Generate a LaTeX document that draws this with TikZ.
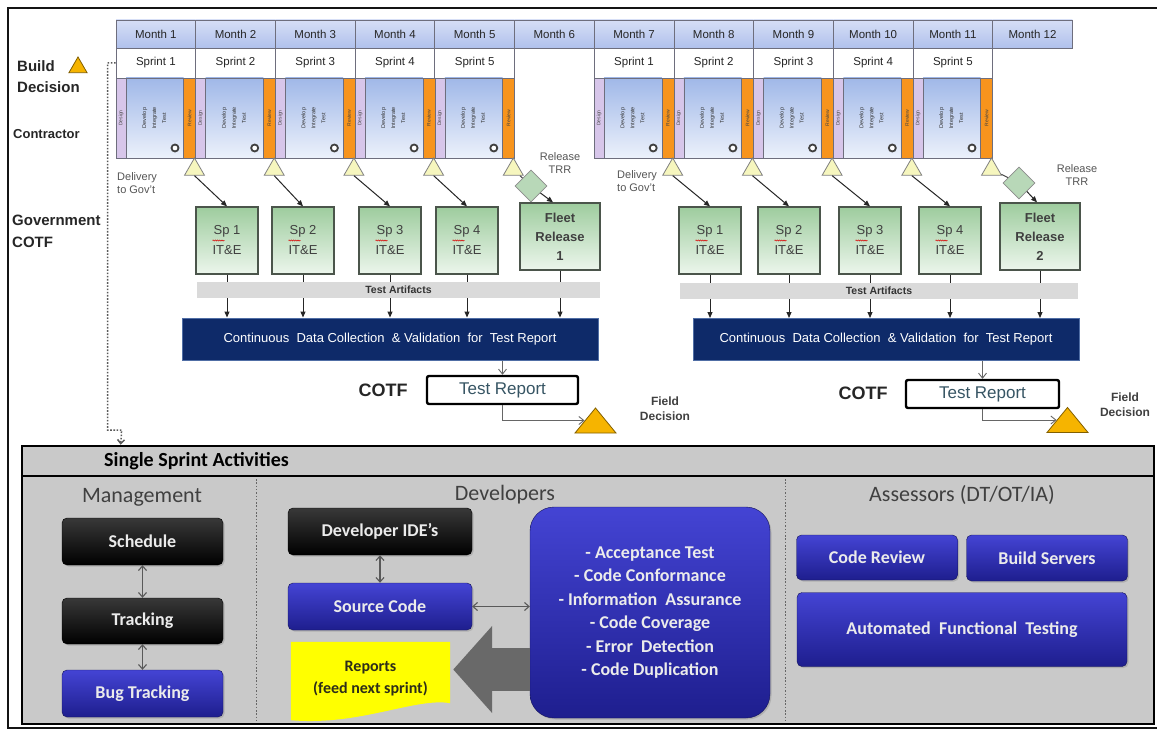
\documentclass[tikz,border=0pt]{standalone}
\usepackage{fontspec}
\setmainfont{Liberation Sans}
\newfontfamily\calfont{Carlito}
\usetikzlibrary{arrows.meta,shapes.geometric,decorations.pathmorphing,calc,shadows}

\definecolor{framek}{RGB}{20,20,20}
\definecolor{monthtop}{RGB}{214,222,246}
\definecolor{monthbot}{RGB}{176,193,236}
\definecolor{cellline}{RGB}{110,110,125}
\definecolor{devtop}{RGB}{160,184,232}
\definecolor{devbot}{RGB}{236,241,251}
\definecolor{lavender}{RGB}{215,198,234}
\definecolor{revorange}{RGB}{247,148,29}
\definecolor{paleyellow}{RGB}{246,246,190}
\definecolor{greentop}{RGB}{158,204,158}
\definecolor{greenbot}{RGB}{236,246,236}
\definecolor{boxline}{RGB}{75,85,75}
\definecolor{diamondgreen}{RGB}{184,216,184}
\definecolor{bandgray}{RGB}{218,218,218}
\definecolor{navy}{RGB}{14,42,105}
\definecolor{navyline}{RGB}{80,110,165}
\definecolor{gold}{RGB}{246,180,0}
\definecolor{goldline}{RGB}{130,95,0}
\definecolor{labelgray}{RGB}{85,85,85}
\definecolor{reportteal}{RGB}{55,85,100}
\definecolor{panelgray}{RGB}{201,201,201}
\definecolor{titlegray}{RGB}{64,64,64}
\definecolor{bluetop}{RGB}{68,68,212}
\definecolor{bluebot}{RGB}{30,30,142}
\definecolor{blueline}{RGB}{20,20,90}
\definecolor{arrowgray}{RGB}{105,105,105}
\definecolor{repyellow}{RGB}{255,255,0}
\definecolor{reptext}{RGB}{45,45,25}

\tikzset{
  monthcell/.style={draw=cellline, line width=0.8pt, top color=monthtop, bottom color=monthbot,
    minimum width=79.7pt, minimum height=28pt, inner sep=0pt, font=\fontsize{11.5}{12}\selectfont, text=black!85},
  sprintcell/.style={draw=cellline, line width=0.8pt, fill=white, minimum width=79.7pt,
    minimum height=30pt, inner sep=0pt, font=\fontsize{11.5}{12}\selectfont, text=black!85},
  designstrip/.style={draw=cellline, line width=0.6pt, fill=lavender, minimum width=10pt,
    minimum height=80pt, inner sep=0pt, font=\fontsize{5}{5.5}\selectfont, text=black!70},
  devarea/.style={draw=cellline, line width=0.6pt, top color=devtop, bottom color=devbot,
    minimum width=57.7pt, minimum height=80pt, inner sep=0pt, font=\fontsize{5.5}{6}\selectfont, text=black!80},
  reviewstrip/.style={draw=cellline, line width=0.6pt, fill=revorange, minimum width=12pt,
    minimum height=80pt, inner sep=0pt, font=\fontsize{5}{5.5}\selectfont, text=black!75},
  cycleicon/.style={circle, draw=black!75, line width=1.8pt, fill=white, minimum size=7pt, inner sep=0pt},
  delivtri/.style={regular polygon, regular polygon sides=3, minimum size=23pt, inner sep=0pt,
    draw=black!50, line width=0.8pt, fill=paleyellow},
  spbox/.style={draw=boxline, line width=1.3pt, top color=greentop, bottom color=greenbot,
    minimum width=62pt, minimum height=67pt, inner sep=0pt, align=center,
    font=\fontsize{13}{20}\selectfont, text=black!75},
  fleetbox/.style={spbox, minimum width=80pt, font=\bfseries\fontsize{13}{19}\selectfont},
  trrdiamond/.style={diamond, draw=black!45, line width=0.8pt, fill=diamondgreen,
    minimum width=32pt, minimum height=32pt, inner sep=0pt},
  band/.style={fill=bandgray, minimum height=16pt, inner sep=0pt,
    font=\bfseries\fontsize{10.5}{11}\selectfont, text=black!80},
  navybox/.style={draw=navyline, line width=1pt, fill=navy, minimum height=42pt, inner sep=0pt,
    text=white, font=\fontsize{13}{14}\selectfont},
  reportbox/.style={draw=black, line width=2.4pt, rounded corners=2pt, fill=white, minimum height=28pt,
    inner sep=0pt, text=reportteal, font=\fontsize{17}{18}\selectfont},
  darr/.style={-{Triangle[length=6pt,width=5pt]}, line width=1pt, draw=black!85},
  thinarr/.style={-{Straight Barb[length=5pt,width=8pt]}, line width=0.9pt, draw=black!60},
  sidelabel/.style={font=\bfseries\fontsize{15}{16}\selectfont, text=black!85, inner sep=0pt, anchor=west},
  smalllabel/.style={font=\fontsize{11}{13}\selectfont, text=labelgray, inner sep=0pt},
  spell/.style={draw=red!85!black, line width=0.5pt, decorate,
    decoration={snake, amplitude=0.6pt, segment length=2.2pt}},
  panel/.style={draw=black, line width=2.5pt, fill=panelgray, inner sep=0pt},
  coltitle/.style={font=\calfont\fontsize{22}{23}\selectfont, text=titlegray, inner sep=0pt},
  darkbox/.style={rounded corners=5pt, draw=black, top color=black!78, bottom color=black,
    text=white!92!black, font=\calfont\bfseries\fontsize{18}{19}\selectfont, inner sep=0pt,
    drop shadow={opacity=0.35, shadow xshift=1.5pt, shadow yshift=-1.5pt}},
  bluebox/.style={darkbox, draw=blueline, top color=bluetop, bottom color=bluebot},
  dblarr/.style={{Straight Barb[length=4.5pt,width=8pt]}-{Straight Barb[length=4.5pt,width=8pt]},
    line width=1.1pt, draw=black!65},
  coldiv/.style={draw=black!60, line width=1pt, dash pattern=on 1.5pt off 1.8pt},
  elbowdots/.style={draw=black!65, line width=1.5pt, dash pattern=on 1.6pt off 1.6pt},
}

\begin{document}
\begin{tikzpicture}[x=1pt,y=-1pt]
\useasboundingbox (0,0) rectangle (1157,730);
\fill[white] (0,0) rectangle (1157,730);

% outer frame (open on the right)
\draw[line width=2.5pt, framek] (1157,8) -- (8,8) -- (8,728) -- (1157,728);

% ---------------- timeline ----------------
\foreach \i in {1,...,12}
  \node[monthcell] (m\i) at ({116+79.7*(\i-0.5)},34) {Month \i};

\foreach \s in {1,...,5}{
  \foreach \h/\off in {L/0,R/6}{
    \pgfmathsetmacro\lx{116+79.7*(\s+\off-1)}
    \node[sprintcell] (sc\h\s) at (\lx+39.85,63) {Sprint \s};
    \node[designstrip] (ds\h\s) at (\lx+5,118) {\rotatebox{90}{Design}};
    \node[devarea] (dv\h\s) at (\lx+38.85,118) {\rotatebox{90}{\begin{tabular}{@{}c@{}}Develop\\[4pt]Integrate\\[4pt]Test\end{tabular}}};
    \node[reviewstrip] (rv\h\s) at (\lx+73.7,118) {\rotatebox{90}{Review}};
    \node[cycleicon] (cy\h\s) at (\lx+59,148) {};
    \node[delivtri] (dt\h\s) at (\lx+78.5,169.5) {};
  }
}

% left-side labels
\node[sidelabel] (lbBuild) at (17,66) {Build};
\node[regular polygon, regular polygon sides=3, minimum size=21pt, inner sep=0pt,
      fill=gold, draw=goldline, line width=0.8pt] (bdTri) at (78,67.5) {};
\node[sidelabel] (lbDecision) at (17,87) {Decision};
\node[sidelabel, font=\bfseries\fontsize{13}{14}\selectfont] (lbContractor) at (13,134) {Contractor};
\node[sidelabel] (lbGov) at (12,220) {Government};
\node[sidelabel] (lbCotf) at (12,242) {COTF};

\node[smalllabel, align=left, anchor=west] (dlL) at (117,183) {Delivery\\to Gov’t};
\node[smalllabel, align=left, anchor=west] (dlR) at (617,181) {Delivery\\to Gov’t};
\node[smalllabel, align=center] (rtL) at (560,163) {Release\\TRR};
\node[smalllabel, align=center] (rtR) at (1077,175) {Release\\TRR};

% sprint IT&E boxes
\foreach \s/\x/\y in {1/227/710,2/303/789,3/390/870,4/467/950}{
  \node[spbox] (iteL\s) at (\x,240.5) {Sp \s\\IT\&E};
  \node[spbox] (iteR\s) at (\y,240.5) {Sp \s\\IT\&E};
  \draw[darr] (dtL\s.south) -- (iteL\s.north);
  \draw[darr] (dtR\s.south) -- (iteR\s.north);
  \draw[spell] ($(iteL\s.center)+(-14.5,0)$) -- ($(iteL\s.center)+(-2.5,0)$);
  \draw[spell] ($(iteR\s.center)+(-14.5,0)$) -- ($(iteR\s.center)+(-2.5,0)$);
}

% fleet releases
\node[fleetbox] (frL) at (560,236.5) {Fleet\\Release\\1};
\node[fleetbox] (frR) at (1040,236.5) {Fleet\\Release\\2};
\node[trrdiamond] (tdL) at (531,186) {};
\node[trrdiamond] (tdR) at (1019,183) {};
\draw[line width=1pt, draw=black!70] (dtL5) -- (tdL);
\draw[line width=1pt, draw=black!70] (dtR5) -- (tdR);
\draw[darr] (tdL) -- ([xshift=-7pt]frL.north);
\draw[darr] (tdR) -- ([xshift=-3pt]frR.north);

% data collection
\node[navybox, minimum width=416pt] (cdL) at (390,339)
  {Continuous\ \ Data Collection\ \ \&\ Validation\ \ for\ \ Test Report};
\node[navybox, minimum width=386pt] (cdR) at (886,339.5)
  {Continuous\ \ Data Collection\ \ \&\ Validation\ \ for\ \ Test Report};
\foreach \n in {iteL1,iteL2,iteL3,iteL4,frL}
  \draw[darr] (\n.south) -- (\n.south |- cdL.north);
\foreach \n in {iteR1,iteR2,iteR3,iteR4,frR}
  \draw[darr] (\n.south) -- (\n.south |- cdR.north);
\node[band, minimum width=403pt] (baL) at (398.5,290) {Test Artifacts};
\node[band, minimum width=398pt] (baR) at (879,290.5) {Test Artifacts};

% test reports and field decisions
\node[reportbox, minimum width=151pt] (tstL) at (502.5,390) {Test Report};
\node[reportbox, minimum width=153pt] (tstR) at (982.5,394) {Test Report};
\draw[thinarr] (cdL.south -| tstL.north) -- (tstL.north);
\draw[thinarr] (cdR.south -| tstR.north) -- (tstR.north);
\node[font=\bfseries\fontsize{18}{18}\selectfont, text=black!85, inner sep=0pt] (cotfL) at (383,390) {COTF};
\node[font=\bfseries\fontsize{18}{18}\selectfont, text=black!85, inner sep=0pt] (cotfR) at (863,393) {COTF};

\coordinate (fdL) at (595.5,420.5);
\coordinate (fdR) at (1067.5,420);
\foreach \c in {fdL,fdR}
  \filldraw[fill=gold, draw=goldline, line width=0.8pt]
    ($(\c)+(0,-12.5)$) -- ($(\c)+(20.5,12.5)$) -- ($(\c)+(-20.5,12.5)$) -- cycle;
\coordinate (fdLin) at ($(fdL)+(-11,0)$);
\coordinate (fdRin) at ($(fdR)+(-11,0)$);
\draw[thinarr] (tstL.south) |- (fdLin);
\draw[thinarr] (tstR.south) |- (fdRin);
\node[font=\bfseries\fontsize{12}{15}\selectfont, text=black!75, align=center, inner sep=0pt] (fdtL) at (665,409) {Field\\Decision};
\node[font=\bfseries\fontsize{12}{15}\selectfont, text=black!75, align=center, inner sep=0pt] (fdtR) at (1125,405) {Field\\Decision};

% ---------------- single sprint panel ----------------
\node[panel, minimum width=1132pt, minimum height=278pt] (ssa) at (588,585) {};
\draw[line width=2pt] ([yshift=-31pt]ssa.north west) -- ([yshift=-31pt]ssa.north east);
\node[font=\calfont\bfseries\fontsize{20}{21}\selectfont, anchor=west, inner sep=0pt] (ssaTitle) at (104,461.5) {Single Sprint Activities};
\coordinate (ssaIn) at ([xshift=100pt]ssa.north west);
\draw[elbowdots, -{Straight Barb[length=4pt,width=7pt]}] (scL1.west) -- ++(-8,0) -- ++(0,367) -- ++(14,0) -- (ssaIn);

\draw[coldiv] (256,479) -- (256,722);
\draw[coldiv] (785,479) -- (785,722);

\node[coltitle] (tMan) at (142,497) {Management};
\node[coltitle] (tDev) at (505,495) {Developers};
\node[coltitle] (tAss) at (962,495) {Assessors (DT/OT/IA)};

% management
\node[darkbox, minimum width=161pt, minimum height=47pt] (sched) at (142.5,541.5) {Schedule};
\node[darkbox, minimum width=161pt, minimum height=46pt] (track) at (142.5,621) {Tracking};
\node[bluebox, minimum width=161pt, minimum height=47pt] (bug) at (142.5,693.5) {Bug Tracking};
\draw[dblarr] (sched) -- (track);
\draw[dblarr] (track) -- (bug);

% developers
\node[darkbox, minimum width=184pt, minimum height=47pt] (ide) at (380,531.5) {Developer IDE’s};
\node[bluebox, minimum width=184pt, minimum height=47pt] (src) at (380,606.5) {Source Code};
\node[minimum width=159pt, minimum height=74pt, inner sep=0pt] (rep) at (370.5,679) {};
\fill[repyellow] (rep.north west) -- (rep.north east) -- ($(rep.south east)+(0,-13)$)
  .. controls ($(rep.south east)+(-35,-19)$) and ($(rep.south west)+(69,10)$) .. ($(rep.south west)+(0,4)$) -- cycle;
\node[font=\calfont\bfseries\fontsize{16}{22}\selectfont, text=reptext, align=center, inner sep=0pt] (repTxt) at (370.5,679) {Reports\\(feed next sprint)};
\node[bluebox, rounded corners=24pt, minimum width=240pt, minimum height=211pt, align=center,
      font=\calfont\bfseries\fontsize{18}{23.5}\selectfont] (big) at (650,612.5)
  {- Acceptance Test\\- Code Conformance\\- Information\ \ Assurance\\- Code Coverage\\- Error\ \ Detection\\- Code Duplication};
\draw[dblarr] (ide) -- (src);
\draw[dblarr] (src.east) -- (big.west |- src.east);
\draw[arrowgray, line width=43pt, -{Triangle[length=39pt,width=85pt]}] (big.west |- 0,669.5) -- ([xshift=3pt,yshift=9.5pt]rep.east);

% assessors
\node[bluebox, minimum width=161pt, minimum height=45pt] (crev) at (877,557.5) {Code Review};
\node[bluebox, minimum width=161pt, minimum height=46pt] (bsrv) at (1047,558) {Build Servers};
\node[bluebox, minimum width=330pt, minimum height=74pt] (aft) at (962,629.5) {Automated\ \ Functional\ \ Testing};
\end{tikzpicture}
\end{document}
